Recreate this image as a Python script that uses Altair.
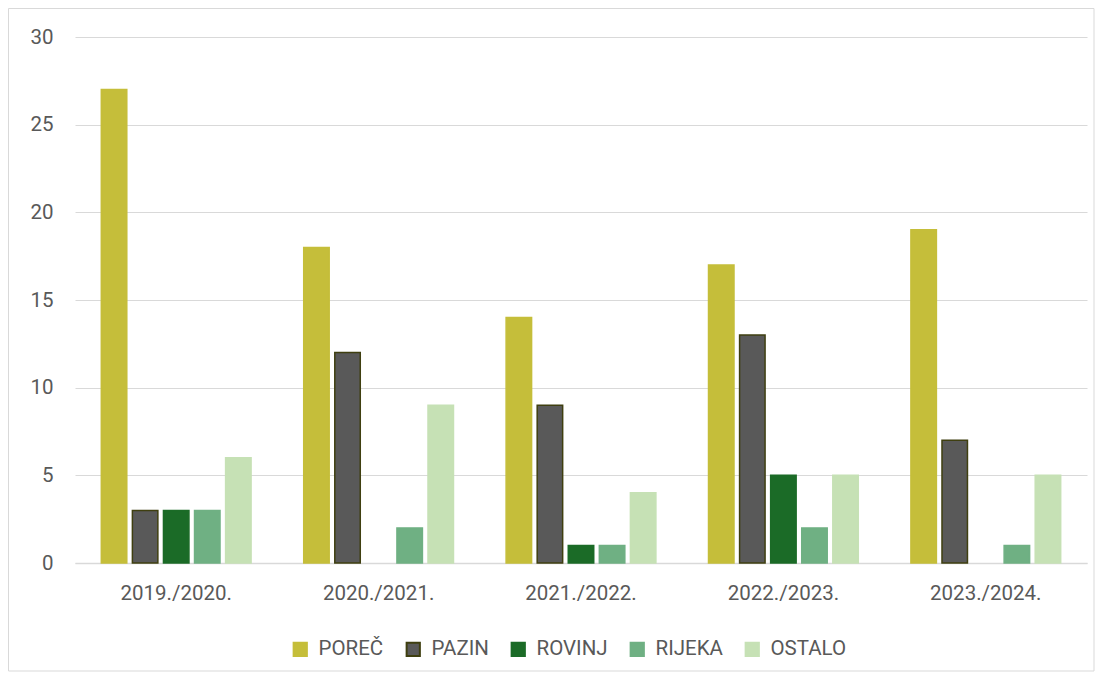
import altair as alt
import pandas as pd

years = ["2019./2020.", "2020./2021.", "2021./2022.", "2022./2023.", "2023./2024."]
series = ["POREČ", "PAZIN", "ROVINJ", "RIJEKA", "OSTALO"]
porec = [27, 18, 14, 17, 19]
pazin = [3, 12, 9, 13, 7]
rovinj = [3, 0, 1, 5, 0]
rijeka = [3, 2, 1, 2, 1]
ostalo = [6, 9, 4, 5, 5]
colors = ["#C5BE3A", "#595959", "#1B6B27", "#6FB083", "#C6E1B5"]
strokes = ["#C5BE3A", "#3F3F10", "#1B6B27", "#6FB083", "#C6E1B5"]

rows = []
for s, vals in zip(series, [porec, pazin, rovinj, rijeka, ostalo]):
    for y, v in zip(years, vals):
        rows.append({"year": y, "series": s, "value": v})
df = pd.DataFrame(rows)

FONT = "Roboto"
GREY = "#595959"
FS = 20.5

bars = alt.Chart(df).transform_filter("datum.value > 0").mark_bar(strokeWidth=1.5).encode(
    x=alt.X("year:N", sort=years, title=None,
            scale=alt.Scale(domain=years, paddingInner=0.26, paddingOuter=0.13),
            axis=alt.Axis(labelAngle=0, ticks=False, domainColor="#d9d9d9", domainWidth=1.5,
                          labelFontSize=FS, labelColor=GREY, labelFont=FONT, labelPadding=20)),
    xOffset=alt.XOffset("series:N", scale=alt.Scale(domain=series, paddingInner=0.18)),
    y=alt.Y("value:Q", title=None,
            scale=alt.Scale(domain=[0, 30]),
            axis=alt.Axis(values=[0, 5, 10, 15, 20, 25, 30], domain=False, ticks=False,
                          gridColor="#d9d9d9", gridWidth=1.2,
                          labelFontSize=FS, labelColor=GREY, labelFont=FONT, labelPadding=22)),
    color=alt.Color("series:N", title=None,
                    scale=alt.Scale(domain=series, range=colors),
                    legend=alt.Legend(orient="none", legendX=215, legendY=602,
                                      direction="horizontal", symbolType="square",
                                      symbolSize=175, symbolStrokeWidth=2, labelFontSize=FS,
                                      labelColor=GREY, labelFont=FONT, columnPadding=18,
                                      labelOffset=8)),
    stroke=alt.Stroke("series:N", title=None,
                      scale=alt.Scale(domain=series, range=strokes)),
)

border = alt.Chart(alt.Data(values=[{}])).mark_rect(
    filled=False, stroke="#d9d9d9", strokeWidth=1
).encode(
    x=alt.value(-66.5), x2=alt.value(1019), y=alt.value(-28.5), y2=alt.value(634)
)

chart = alt.layer(bars, border).properties(
    width=1012, height=526, padding=0
).configure(font=FONT).configure_view(stroke=None)

chart.save("out.html", embed_options={"renderer": "svg", "actions": False})
